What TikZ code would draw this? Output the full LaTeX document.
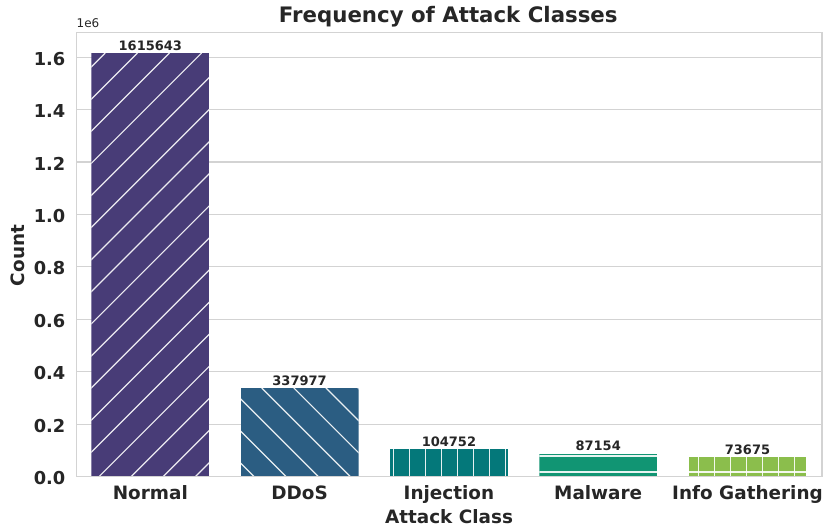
\documentclass[tikz,border=0pt]{standalone}
\usepackage{fontspec}
\setmainfont{DejaVu Sans}
\definecolor{txt}{HTML}{262626}
\definecolor{gridc}{HTML}{D3D3D3}
\definecolor{cNormal}{HTML}{483C77}
\definecolor{cDDoS}{HTML}{2B5D82}
\definecolor{cInj}{HTML}{04787A}
\definecolor{cMal}{HTML}{119573}
\definecolor{cInfo}{HTML}{8BBE4C}
\tikzset{
  gridline/.style={draw=gridc, line width=1.1pt},
  hatchline/.style={draw=white, line width=1.2pt, opacity=0.9},
  titletext/.style={text=txt, inner sep=0pt, font=\fontsize{21.3}{24}\selectfont\bfseries},
  ticklab/.style={text=txt, inner sep=0pt, font=\fontsize{17.8}{20}\selectfont\bfseries},
  xticklab/.style={text=txt, inner sep=0pt, font=\fontsize{18.4}{21}\selectfont\bfseries},
  axislab/.style={text=txt, inner sep=0pt, font=\fontsize{18.4}{21}\selectfont\bfseries},
  vallab/.style={text=txt, inner sep=0pt, font=\fontsize{13}{15}\selectfont\bfseries},
  offlab/.style={text=txt, inner sep=0pt, font=\fontsize{12}{14}\selectfont},
}
\begin{document}
\begin{tikzpicture}[x=1pt,y=-1pt]
\useasboundingbox (0,0) rectangle (823,528);
\fill[white] (0,0) rectangle (823,528);
% grid
\foreach \v in {0.2,0.4,0.6,0.8,1.0,1.2,1.4,1.6}
  \draw[gridline] (76.5,{476.5-262.1*\v}) -- (822,{476.5-262.1*\v});
\draw[gridline] (76.5,32.3) rectangle (822,476.5);
% Normal bar, hatch /
\begin{scope}
  \clip (91.4,53.04) rectangle (209.3,476.5);
  \fill[cNormal] (91.4,53.04) rectangle (209.3,476.5);
  \foreach \k in {3,...,21}
    \draw[hatchline] ({29.9+32.1*\k-476.5},476.5) -- ({29.9+32.1*\k-53.04},53.04);
\end{scope}
% DDoS bar, hatch \
\begin{scope}
  \clip (240.6,387.92) rectangle (358.5,476.5);
  \fill[cDDoS] (240.6,387.92) rectangle (358.5,476.5);
  \foreach \k in {-8,...,-1}
    \draw[hatchline] ({2.2+32.1*\k+387.92},387.92) -- ({2.2+32.1*\k+476.5},476.5);
\end{scope}
% Injection bar, hatch |
\begin{scope}
  \clip (390,449.04) rectangle (507.8,476.5);
  \fill[cInj] (390,449.04) rectangle (507.8,476.5);
  \foreach \k in {0,...,7}
    \draw[hatchline] ({393.3+16.05*\k},449.04) -- ({393.3+16.05*\k},476.5);
\end{scope}
% Malware bar, hatch -
\begin{scope}
  \clip (539.3,453.66) rectangle (657.1,476.5);
  \fill[cMal] (539.3,453.66) rectangle (657.1,476.5);
  \foreach \k in {0,1}
    \draw[hatchline] (539.3,{472-16.05*\k}) -- (657.1,{472-16.05*\k});
\end{scope}
% Info Gathering bar, hatch +
\begin{scope}
  \clip (688.6,457.19) rectangle (806.4,476.5);
  \fill[cInfo] (688.6,457.19) rectangle (806.4,476.5);
  \foreach \k in {19,...,25}
    \draw[hatchline] ({393.3+16.05*\k},457.19) -- ({393.3+16.05*\k},476.5);
  \draw[hatchline] (688.6,472) -- (806.4,472);
\end{scope}
% bottom spine redraw
\draw[gridline] (76.5,476.5) -- (822,476.5);
% value labels
\node[vallab, anchor=base] (v1) at (150.35,50.3) {1615643};
\node[vallab, anchor=base] (v2) at (299.55,385.2) {337977};
\node[vallab, anchor=base] (v3) at (448.9,446.3) {104752};
\node[vallab, anchor=base] (v4) at (598.2,450.9) {87154};
\node[vallab, anchor=base] (v5) at (747.5,454.4) {73675};
% y tick labels
\node[ticklab, anchor=east] (y0) at (65.5,{476.5+1.5}) {0.0};
\node[ticklab, anchor=east] (y1) at (65.5,{476.5-262.1*0.2+1.5}) {0.2};
\node[ticklab, anchor=east] (y2) at (65.5,{476.5-262.1*0.4+1.5}) {0.4};
\node[ticklab, anchor=east] (y3) at (65.5,{476.5-262.1*0.6+1.5}) {0.6};
\node[ticklab, anchor=east] (y4) at (65.5,{476.5-262.1*0.8+1.5}) {0.8};
\node[ticklab, anchor=east] (y5) at (65.5,{476.5-262.1*1.0+1.5}) {1.0};
\node[ticklab, anchor=east] (y6) at (65.5,{476.5-262.1*1.2+1.5}) {1.2};
\node[ticklab, anchor=east] (y7) at (65.5,{476.5-262.1*1.4+1.5}) {1.4};
\node[ticklab, anchor=east] (y8) at (65.5,{476.5-262.1*1.6+1.5}) {1.6};
\node[offlab, anchor=base west] (off) at (76.5,27.5) {1e6};
% x tick labels
\node[xticklab, anchor=base] (x1) at (150.35,499.7) {Normal};
\node[xticklab, anchor=base] (x2) at (299.55,499.7) {DDoS};
\node[xticklab, anchor=base] (x3) at (448.9,499.7) {Injection};
\node[xticklab, anchor=base] (x4) at (598.2,499.7) {Malware};
\node[xticklab, anchor=base] (x5) at (747.5,499.7) {Info Gathering};
% axis labels and title
\node[axislab, anchor=base] (xlabel) at (449,523.3) {Attack Class};
\node[axislab, anchor=base, rotate=90] (ylabel) at (24.5,255.5) {Count};
\node[titletext, anchor=base] (title) at (448.3,22.7) {Frequency of Attack Classes};
\end{tikzpicture}
\end{document}
